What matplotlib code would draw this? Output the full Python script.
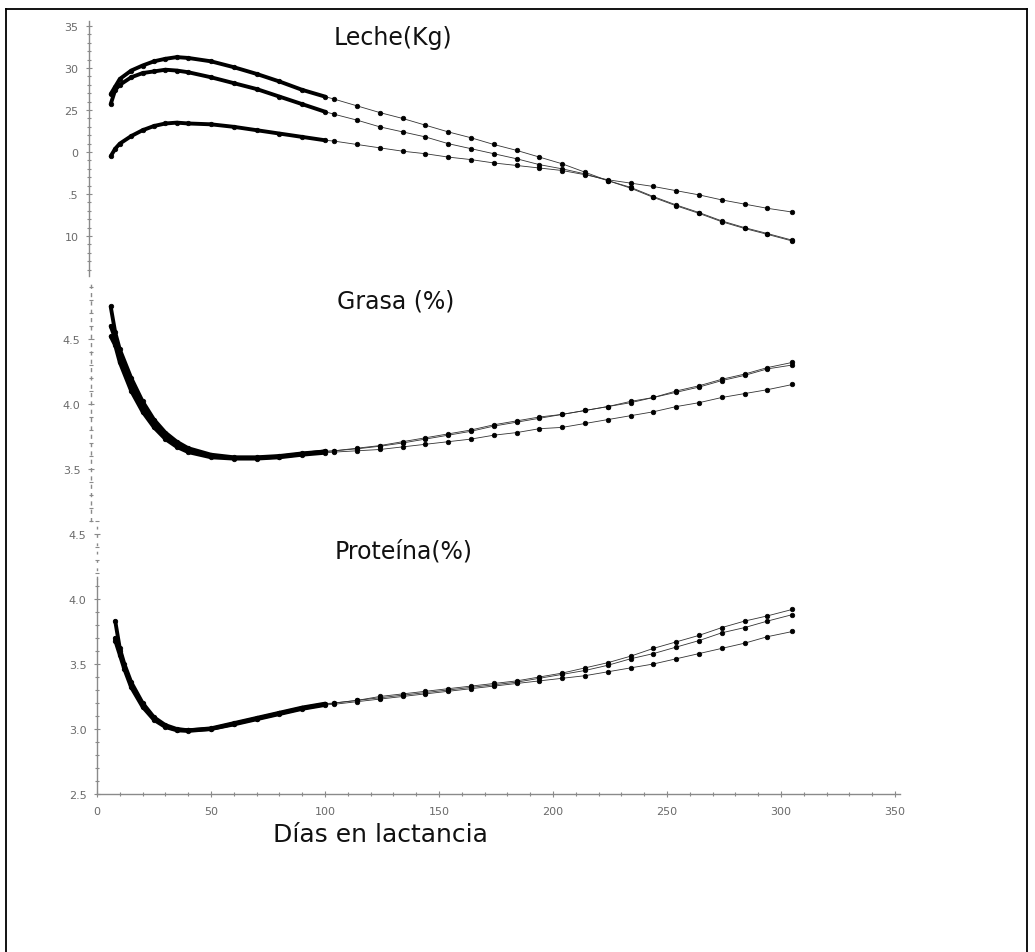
import matplotlib
matplotlib.use("Agg")
import matplotlib.pyplot as plt
from matplotlib.lines import Line2D
from matplotlib.ticker import MultipleLocator, FixedLocator

# ---------------- data ----------------
early_days = [6, 8, 10, 15, 20, 25, 30, 35, 40, 50, 60, 70, 80, 90, 100]
early_days_prot = [8, 10, 12, 15, 20, 25, 30, 35, 40, 50, 60, 70, 80, 90, 100]
late_days = [104, 114, 124, 134, 144, 154, 164, 174, 184, 194, 204,
             214, 224, 234, 244, 254, 264, 274, 284, 294, 305]

# Leche (Kg)
leche_a_early = [26.9, 27.8, 28.7, 29.7, 30.3, 30.8, 31.1, 31.3, 31.2, 30.8, 30.1, 29.3, 28.4, 27.4, 26.6]
leche_a_late = [26.3, 25.5, 24.7, 24.0, 23.2, 22.4, 21.7, 20.9, 20.2, 19.4, 18.6,
                17.6, 16.6, 15.8, 14.7, 13.7, 12.8, 11.8, 11.0, 10.3, 9.5]
leche_b_early = [25.7, 27.4, 28.0, 28.9, 29.4, 29.6, 29.8, 29.7, 29.5, 28.9, 28.2, 27.5, 26.6, 25.7, 24.8]
leche_b_late = [24.5, 23.8, 23.0, 22.4, 21.8, 21.0, 20.4, 19.8, 19.2, 18.5, 18.0,
                17.4, 16.6, 15.7, 14.6, 13.6, 12.7, 11.7, 10.9, 10.2, 9.4]
leche_c_early = [19.5, 20.4, 21.0, 21.9, 22.6, 23.1, 23.4, 23.5, 23.4, 23.3, 23.0, 22.6, 22.2, 21.8, 21.4]
leche_c_late = [21.3, 20.9, 20.5, 20.1, 19.8, 19.4, 19.1, 18.7, 18.4, 18.1, 17.8,
                17.3, 16.7, 16.3, 15.9, 15.4, 14.9, 14.3, 13.8, 13.3, 12.85]

# Grasa (%)
grasa_a_early = [4.75, 4.55, 4.42, 4.20, 4.02, 3.88, 3.78, 3.71, 3.66, 3.61, 3.59, 3.59, 3.60, 3.62, 3.635]
grasa_a_late = [3.64, 3.66, 3.68, 3.71, 3.74, 3.77, 3.80, 3.84, 3.87, 3.90, 3.92,
                3.95, 3.98, 4.02, 4.05, 4.10, 4.14, 4.19, 4.23, 4.28, 4.32]
grasa_b_early = [4.60, 4.50, 4.38, 4.15, 3.98, 3.85, 3.75, 3.69, 3.645, 3.60, 3.585, 3.585, 3.595, 3.615, 3.635]
grasa_b_late = [3.64, 3.655, 3.675, 3.70, 3.73, 3.76, 3.79, 3.83, 3.86, 3.89, 3.92,
                3.95, 3.98, 4.01, 4.05, 4.09, 4.13, 4.18, 4.22, 4.27, 4.30]
grasa_c_early = [4.52, 4.45, 4.32, 4.10, 3.94, 3.82, 3.73, 3.67, 3.63, 3.59, 3.58, 3.58, 3.59, 3.61, 3.625]
grasa_c_late = [3.63, 3.64, 3.65, 3.67, 3.69, 3.71, 3.73, 3.76, 3.78, 3.81, 3.82,
                3.85, 3.88, 3.91, 3.94, 3.98, 4.01, 4.05, 4.08, 4.11, 4.15]

# Proteína (%)
prot_a_early = [3.83, 3.62, 3.50, 3.36, 3.20, 3.09, 3.03, 3.00, 2.99, 3.00, 3.04, 3.08, 3.12, 3.16, 3.19]
prot_a_late = [3.20, 3.22, 3.25, 3.27, 3.29, 3.31, 3.33, 3.35, 3.37, 3.40, 3.43,
               3.47, 3.51, 3.56, 3.62, 3.67, 3.72, 3.78, 3.83, 3.87, 3.92]
prot_b_early = [3.70, 3.60, 3.48, 3.34, 3.19, 3.08, 3.02, 2.995, 2.99, 3.005, 3.045, 3.085, 3.125, 3.165, 3.195]
prot_b_late = [3.20, 3.22, 3.24, 3.26, 3.28, 3.30, 3.32, 3.34, 3.36, 3.39, 3.42,
               3.45, 3.49, 3.54, 3.58, 3.63, 3.68, 3.74, 3.78, 3.83, 3.88]
prot_c_early = [3.68, 3.57, 3.46, 3.32, 3.17, 3.07, 3.015, 2.99, 2.985, 3.00, 3.035, 3.075, 3.115, 3.155, 3.185]
prot_c_late = [3.19, 3.21, 3.23, 3.25, 3.27, 3.29, 3.31, 3.33, 3.35, 3.37, 3.39,
               3.41, 3.44, 3.47, 3.50, 3.54, 3.58, 3.62, 3.66, 3.71, 3.75]

leche_ticks = [35, 30, 25, 20, 15, 10]
leche_ticklabels = ["35", "30", "25", "0", ".5", "10"]
grasa_ticks = [4.5, 4.0, 3.5]
grasa_ticklabels = ["4.5", "4.0", "3.5"]
prot_ticks = [4.5, 4.0, 3.5, 3.0, 2.5]
prot_ticklabels = ["4.5", "4.0", "3.5", "3.0", "2.5"]
x_ticks = [0, 50, 100, 150, 200, 250, 300, 350]

titles = ["Leche(Kg)", "Grasa (%)", "Proteína(%)"]
xlabel = "Días en lactancia"

# ---------------- figure ----------------
W, H = 1035, 953
fig = plt.figure(figsize=(W / 100, H / 100), dpi=100)
fig.patch.set_facecolor("white")

AXC = "#8a8a8a"
TXC = "#6a6a6a"


def px_axes(left, top, right, bottom):
    return fig.add_axes([left / W, 1 - bottom / H, (right - left) / W, (bottom - top) / H])


def style(ax, ylim, ticks, labels, minor, offset_px, show_x=False):
    ax.set_xlim(0, 352)
    ax.set_ylim(*ylim)
    ax.set_facecolor("none")
    for s in ["top", "right"]:
        ax.spines[s].set_visible(False)
    ax.spines["left"].set_color(AXC)
    ax.spines["left"].set_linewidth(1.0)
    ax.spines["left"].set_position(("outward", offset_px * 0.72))
    ax.yaxis.set_major_locator(FixedLocator(ticks))
    ax.set_yticklabels(labels)
    ax.yaxis.set_minor_locator(MultipleLocator(minor))
    ax.tick_params(axis="y", which="major", direction="inout", length=5, width=0.8,
                   color=AXC, labelcolor=TXC, labelsize=8, pad=5)
    ax.tick_params(axis="y", which="minor", direction="inout", length=3, width=0.8, color=AXC)
    for t in ax.get_yticklabels():
        t.set_family("DejaVu Sans")
    if show_x:
        ax.spines["bottom"].set_color(AXC)
        ax.spines["bottom"].set_linewidth(1.0)
        ax.xaxis.set_major_locator(FixedLocator(x_ticks))
        ax.xaxis.set_minor_locator(MultipleLocator(10))
        ax.tick_params(axis="x", which="major", direction="inout", length=5, width=0.8,
                       color=AXC, labelcolor=TXC, labelsize=8, pad=6)
        ax.tick_params(axis="x", which="minor", direction="inout", length=3, width=0.8, color=AXC)
    else:
        ax.spines["bottom"].set_visible(False)
        ax.set_xticks([])


def draw(ax, ed, e, l):
    days = list(ed) + list(late_days)
    vals = list(e) + list(l)
    ax.plot(days, vals, "-", color="#333333", lw=0.6, marker="o", ms=3.3,
            mfc="black", mec="black", mew=0.5, clip_on=False, zorder=3)
    ax.plot(ed, e, "-", color="black", lw=2.8, solid_capstyle="round",
            solid_joinstyle="round", clip_on=False, zorder=4)


ax1 = px_axes(97, 22, 899.6, 276.5)
style(ax1, (5.3, 35.6), leche_ticks, leche_ticklabels, 1, 8)
draw(ax1, early_days, leche_a_early, leche_a_late)
draw(ax1, early_days, leche_b_early, leche_b_late)
draw(ax1, early_days, leche_c_early, leche_c_late)

ax2 = px_axes(97, 285.4, 899.6, 522)
style(ax2, (3.1, 4.92), grasa_ticks, grasa_ticklabels, 0.1, 6)
ax2.spines["left"].set_linestyle((0, (2, 4)))
draw(ax2, early_days, grasa_a_early, grasa_a_late)
draw(ax2, early_days, grasa_b_early, grasa_b_late)
draw(ax2, early_days, grasa_c_early, grasa_c_late)

ax3 = px_axes(97, 522, 899.6, 795)
style(ax3, (2.5, 4.6), prot_ticks, prot_ticklabels, 0.1, 0, show_x=True)
ax3.spines["left"].set_bounds(2.5, 4.15)
ax3.plot([0, 0], [4.15, 4.6], linestyle=(0, (2, 4)), color=AXC, lw=1.0, clip_on=False)
draw(ax3, early_days_prot, prot_a_early, prot_a_late)
draw(ax3, early_days_prot, prot_b_early, prot_b_late)
draw(ax3, early_days_prot, prot_c_early, prot_c_late)

# titles and axis label
title_pos = [(393, 38), (396, 302), (404, 552)]
for t, (x, y) in zip(titles, title_pos):
    fig.text(x / W, 1 - y / H, t, ha="center", va="center", fontsize=17,
             family="DejaVu Sans", color="#111111")
fig.text(380 / W, 1 - 835 / H, xlabel, ha="center", va="center", fontsize=18,
         family="DejaVu Sans", color="#111111")

# outer frame of the scanned figure
fig.add_artist(Line2D([6 / W, 6 / W], [0, 1 - 10 / H], transform=fig.transFigure,
                      color="black", lw=1.3))
fig.add_artist(Line2D([6 / W, 1027 / W], [1 - 10 / H, 1 - 10 / H], transform=fig.transFigure,
                      color="black", lw=1.3))
fig.add_artist(Line2D([1027 / W, 1027 / W], [1 - 10 / H, 0], transform=fig.transFigure,
                      color="black", lw=1.3))

fig.savefig("out.png", dpi=100, facecolor="white")
